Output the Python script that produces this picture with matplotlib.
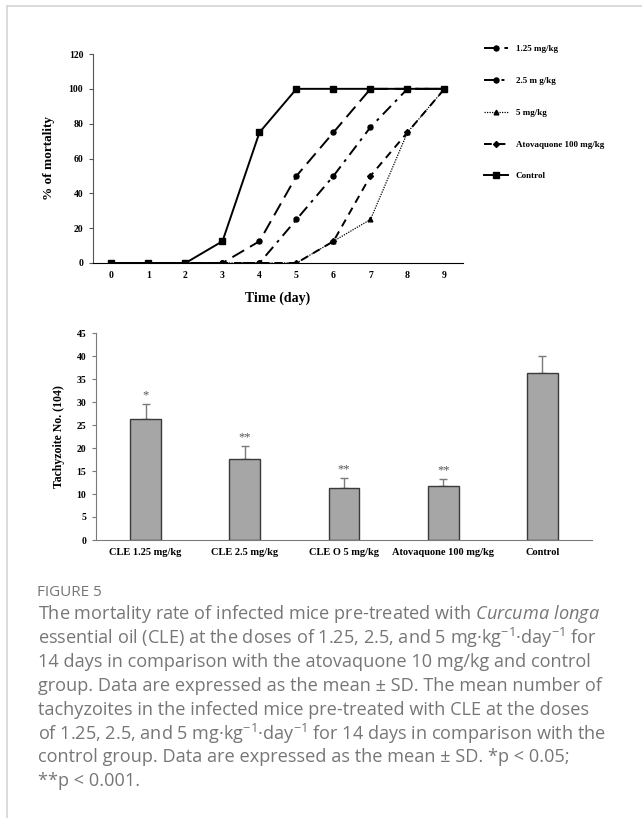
import matplotlib
matplotlib.use("Agg")
import matplotlib.pyplot as plt
from matplotlib.lines import Line2D

# mortality data (% of mice dead per day)
days = [0, 1, 2, 3, 4, 5, 6, 7, 8, 9]
dose_125 = [0, 0, 0, 0, 12.5, 50, 75, 100, 100, 100]
dose_25 = [0, 0, 0, 0, 0, 25, 50, 78, 100, 100]
dose_5 = [0, 0, 0, 0, 0, 0, 12.5, 25, 75, 100]
atovaquone = [0, 0, 0, 0, 0, 0, 12.5, 50, 75, 100]
control = [0, 0, 0, 12.5, 75, 100, 100, 100, 100, 100]

# tachyzoite counts
groups = ["CLE 1.25 mg/kg", "CLE 2.5 mg/kg", "CLE O 5 mg/kg", "Atovaquone 100 mg/kg", "Control"]
means = [26.3, 17.6, 11.2, 11.7, 36.3]
sds = [3.2, 2.9, 2.3, 1.5, 3.6]
stars = ["*", "**", "**", "**", ""]

caption = [
    r"The mortality rate of infected mice pre-treated with $\mathit{Curcuma\ longa}$",
    r"essential oil (CLE) at the doses of 1.25, 2.5, and 5 mg·$\mathrm{kg}^{-1}$·$\mathrm{day}^{-1}$ for",
    "14 days in comparison with the atovaquone 10 mg/kg and control",
    "group. Data are expressed as the mean ± SD. The mean number of",
    "tachyzoites in the infected mice pre-treated with CLE at the doses",
    r"of 1.25, 2.5, and 5 mg·$\mathrm{kg}^{-1}$·$\mathrm{day}^{-1}$ for 14 days in comparison with the",
    "control group. Data are expressed as the mean ± SD. *p < 0.05;",
    "**p < 0.001.",
]

plt.rcParams['font.family'] = ['Liberation Serif', 'DejaVu Serif']
plt.rcParams['font.weight'] = 'bold'
plt.rcParams['mathtext.fontset'] = 'custom'
plt.rcParams['mathtext.rm'] = 'Open Sans:weight=normal'
plt.rcParams['mathtext.it'] = 'Open Sans:style=italic:weight=normal'
plt.rcParams['mathtext.bf'] = 'Open Sans:weight=bold'

W, H = 642, 818
fig = plt.figure(figsize=(W / 100, H / 100), dpi=100)


def box(l, t, r, b):
    return [l / W, 1 - b / H, (r - l) / W, (b - t) / H]


# page border
fig.add_artist(Line2D([7 / W, 1], [1 - 6 / H, 1 - 6 / H], color='#d4d4d4', lw=1.2))
fig.add_artist(Line2D([7 / W, 7 / W], [0, 1 - 6 / H], color='#d4d4d4', lw=1.2))

# ---- top: mortality curves
ax1 = fig.add_axes(box(93, 54, 463, 263))
styles = [
    (dose_125, "1.25 mg/kg", (0, (7, 3.5)), 'o', 3.6, 1.4),
    (dose_25, "2.5 m g/kg", (0, (6, 3, 1.5, 3)), 'o', 3.6, 1.4),
    (dose_5, "5 mg/kg", (0, (1, 1)), '^', 3.4, 0.9),
    (atovaquone, "Atovaquone 100 mg/kg", (0, (4, 3)), 'D', 3, 1.4),
    (control, "Control", '-', 's', 3.8, 1.4),
]
for vals, lab, ls, mk, ms, lw in styles:
    ax1.plot(days, vals, color='black', linestyle=ls, marker=mk, markersize=ms,
             linewidth=lw, label=lab)
ax1.set_xlim(-0.5, 9.5)
ax1.set_ylim(0, 120)
ax1.set_yticks(range(0, 121, 20))
ax1.set_xticks(days)
ax1.spines[['top', 'right']].set_visible(False)
ax1.spines['left'].set_color('#555555')
ax1.tick_params(axis='x', length=0, pad=6, labelsize=7)
ax1.tick_params(axis='y', length=3, width=0.8, color='#555555', labelsize=7, pad=4)
ax1.set_xlabel("Time (day)", fontsize=10, fontweight='bold', labelpad=8)
ax1.set_ylabel("% of mortality", fontsize=9.5, fontweight='bold', labelpad=10)
ax1.legend(loc='upper left', bbox_to_anchor=(484 / W, 1 - 45 / H),
           bbox_transform=fig.transFigure, frameon=False, fontsize=6.5,
           handlelength=2.7, handletextpad=0.8, labelspacing=2.6,
           borderpad=0, borderaxespad=0)

# ---- bottom: tachyzoite counts
ax2 = fig.add_axes(box(96, 333, 592, 540))
x = range(len(groups))
ax2.bar(x, means, width=0.31, color='#a6a6a6', edgecolor='#3a3a3a', linewidth=1, zorder=2)
ax2.errorbar(x, means, yerr=[[0] * len(sds), sds], fmt='none', ecolor='#7a7a7a',
             elinewidth=1, capsize=3, capthick=1, zorder=1)
for i, s in enumerate(stars):
    if s:
        ax2.text(i, means[i] + sds[i] + 0.6, s, ha='center', va='bottom',
                 fontsize=9, color='#555555', fontweight='normal')
ax2.set_xlim(-0.5, 4.5)
ax2.set_ylim(0, 45)
ax2.set_yticks(range(0, 46, 5))
ax2.set_xticks(list(x))
ax2.set_xticklabels(groups)
ax2.spines[['top', 'right']].set_visible(False)
ax2.spines['left'].set_color('#7a7a7a')
ax2.spines['bottom'].set_color('#7a7a7a')
ax2.tick_params(axis='x', length=0, pad=6, labelsize=7.5)
ax2.tick_params(axis='y', length=3, width=0.8, color='#7a7a7a', labelsize=7, pad=4)
ax2.set_ylabel("Tachyzoite No. (104)", fontsize=8.5, fontweight='bold', labelpad=8)

# ---- caption
cap_font = dict(family='Open Sans', fontweight='normal', color='#767676')
fig.text(37 / W, 1 - 592 / H, "FIGURE 5", fontsize=11, va='center', **cap_font)
for i, line in enumerate(caption):
    fig.text(38 / W, 1 - (614 + 23.9 * i) / H, line, fontsize=13.1, va='center', **cap_font)

fig.savefig("out.png", dpi=100)
